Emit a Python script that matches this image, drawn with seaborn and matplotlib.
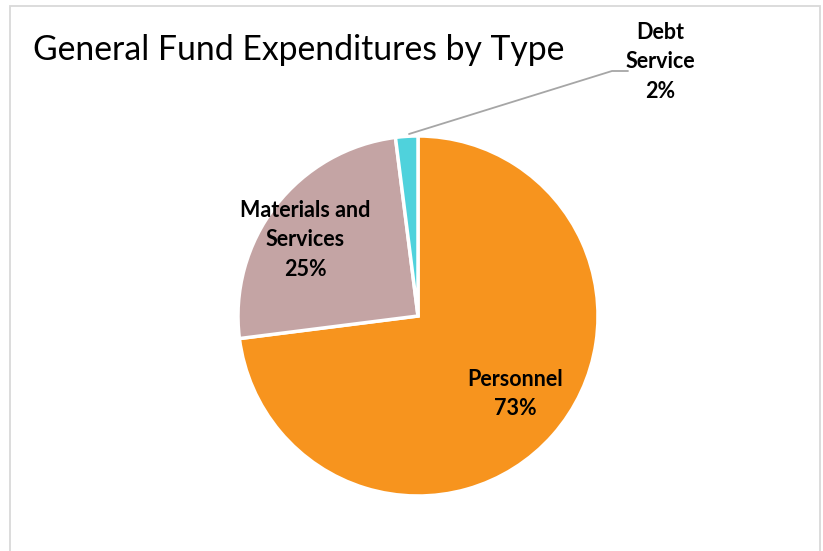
import matplotlib
matplotlib.use("Agg")
import matplotlib.pyplot as plt
import seaborn as sns
from matplotlib.patches import Rectangle

categories = ["Personnel", "Materials and\nServices", "Debt\nService"]
shares = [73, 25, 2]
colors = ["#F7941E", "#C4A4A4", "#4FD2DC"]

sns.set_theme(style="white")
plt.rcParams["font.family"] = ["Lato", "DejaVu Sans"]

W, H = 823, 551
fig = plt.figure(figsize=(W / 100, H / 100), dpi=100)
ax = fig.add_axes([0, 0, 1, 1])

# chart frame
ax.add_patch(Rectangle((10.5, -560), 810, 554, fill=False,
                       edgecolor="#D9D9D9", linewidth=1.3))

cx, cy, r = 418, -316, 180
wedges, _ = ax.pie(shares, colors=colors, startangle=90, counterclock=False,
                   center=(cx, cy), radius=r, frame=True,
                   wedgeprops=dict(edgecolor="white", linewidth=2.5))
ax.set_xlim(0, W)
ax.set_ylim(-H, 0)
ax.set_aspect("equal")
ax.axis("off")

ax.text(33, -50, "General Fund Expenditures by Type", fontsize=24.3,
        color="#000000", ha="left", va="center")

label_pos = [(515, -394), (305, -240), (660, -62)]
for name, val, (x, y) in zip(categories, shares, label_pos):
    ax.text(x, y, f"{name}\n{val}%", ha="center", va="center",
            fontsize=15.5, fontweight="bold", color="#000000",
            linespacing=1.5)

# leader line for the small slice
ax.plot([409, 612, 628], [-134, -71, -71], color="#A6A6A6", linewidth=1.3)

fig.savefig("out.png", dpi=100, facecolor="white")
